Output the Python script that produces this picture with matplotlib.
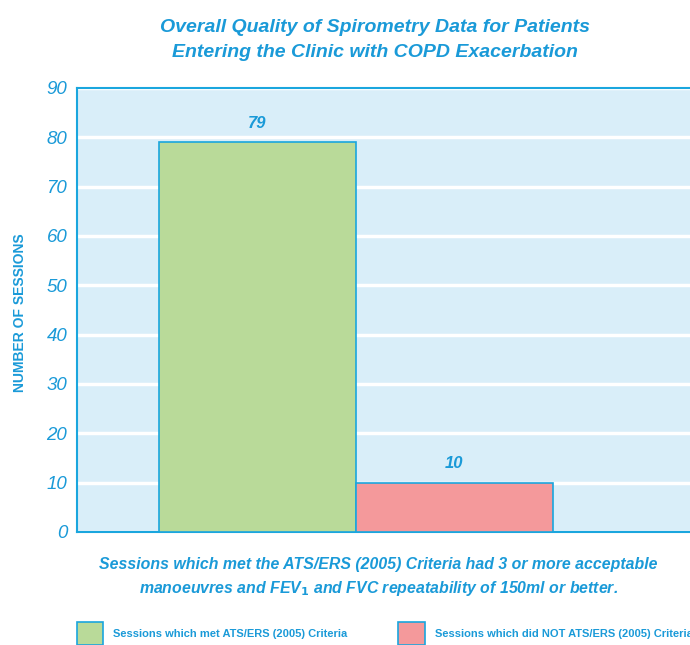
import matplotlib.pyplot as plt
from matplotlib.patches import Patch

categories = ['Sessions which met ATS/ERS (2005) Criteria',
              'Sessions which did NOT ATS/ERS (2005) Criteria']
sessions = [79, 10]
yticks = [0, 10, 20, 30, 40, 50, 60, 70, 80, 90]

blue = '#1a9ad8'
edge = '#1aa6de'
bar_colors = ['#b9da99', '#f4999b']

plt.rcParams['font.family'] = ['Liberation Sans', 'DejaVu Sans']

fig = plt.figure(figsize=(6.9, 6.45), dpi=100)
ax = fig.add_axes([0.1116, 0.1752, 0.8884, 0.6884])
ax.set_facecolor('#d9eef9')

ax.bar(range(len(sessions)), sessions, width=1.0, color=bar_colors,
       edgecolor=edge, linewidth=1.2, zorder=3)
for i, v in enumerate(sessions):
    ax.text(i, v + 2.3, str(v), ha='center', va='bottom', color=blue,
            fontsize=12, fontweight='bold', style='italic')

ax.set_xlim(-0.916, 2.196)
ax.set_ylim(0, 90)
ax.set_yticks(yticks)
ax.set_yticklabels([str(t) for t in yticks], color=blue, fontsize=13.5, style='italic')
ax.set_xticks([])
ax.tick_params(axis='y', length=0, pad=7)
ax.yaxis.grid(True, color='white', linewidth=2.5, zorder=1)
ax.set_axisbelow(True)
for side in ['left', 'bottom', 'top']:
    ax.spines[side].set_color(edge)
    ax.spines[side].set_linewidth(1.5)
ax.spines['right'].set_visible(False)

fig.text(0.029, 0.515, 'NUMBER OF SESSIONS', rotation=90, ha='center', va='center',
         color=blue, fontsize=10, fontweight='bold')

fig.text(0.543, 0.970, 'Overall Quality of Spirometry Data for Patients\nEntering the Clinic with COPD Exacerbation',
         ha='center', va='top', color=blue, fontsize=14, fontweight='bold', style='italic',
         linespacing=1.6)

fig.text(0.548, 0.136, 'Sessions which met the ATS/ERS (2005) Criteria had 3 or more acceptable\n'
         'manoeuvres and FEV$_\\mathbf{1}$ and FVC repeatability of 150ml or better.',
         ha='center', va='top', color=blue, fontsize=11.4, fontweight='bold', style='italic',
         linespacing=1.45)

for i, x0 in enumerate([0.111, 0.577]):
    h = Patch(facecolor=bar_colors[i], edgecolor=edge, linewidth=1.2, label=categories[i])
    leg = fig.legend(handles=[h], loc='center left', bbox_to_anchor=(x0, 0.018),
                     frameon=False, handlelength=2.4, handleheight=2.7,
                     handletextpad=0.9, borderaxespad=0, borderpad=0,
                     prop={'weight': 'bold', 'size': 8})
    for t in leg.get_texts():
        t.set_color(blue)

fig.savefig('out.png', dpi=100)
